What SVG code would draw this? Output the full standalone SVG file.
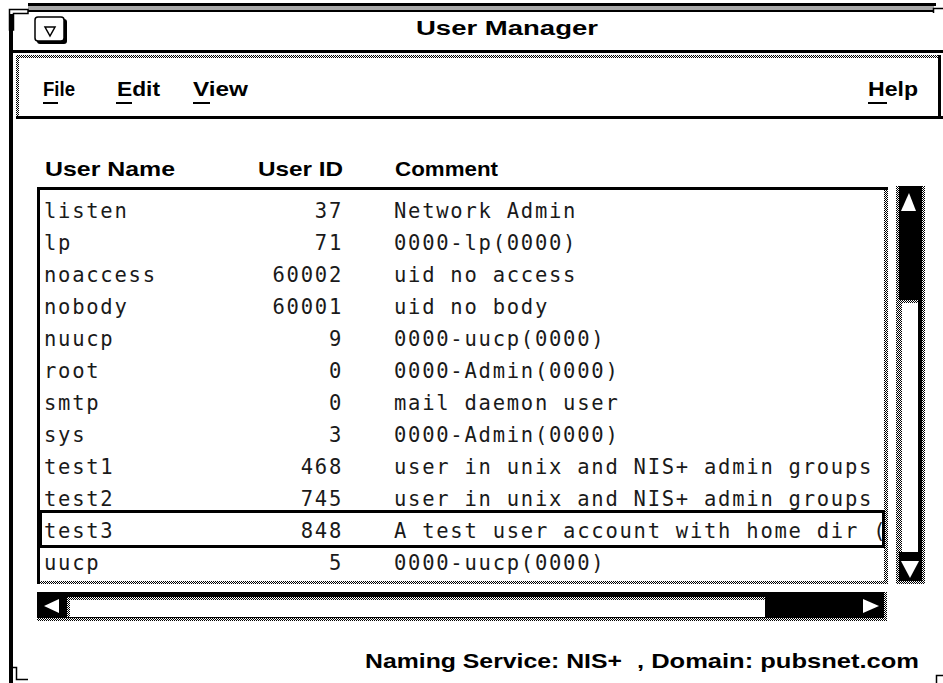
<svg xmlns="http://www.w3.org/2000/svg" width="943" height="683" viewBox="0 0 943 683">
<defs>
<pattern id="chk" width="2" height="2" patternUnits="userSpaceOnUse"><rect width="2" height="2" fill="#fff"/><rect width="1" height="1" fill="#000"/><rect x="1" y="1" width="1" height="1" fill="#000"/></pattern>
<clipPath id="listclip"><rect x="40" y="190" width="843" height="391"/></clipPath>
</defs>
<style>
.ui{font-family:"Liberation Sans",Arial,sans-serif;font-weight:bold;fill:#000;}
.mono{font-family:"DejaVu Sans Mono","Liberation Mono",monospace;font-size:20.5px;letter-spacing:1.75px;fill:#1a1a1a;}
.id{text-anchor:end;}
.blk{fill:#000;}
.dot{fill:url(#chk);}
.wht{fill:#fff;}
</style>
<rect width="943" height="683" fill="#fff"/>

<g id="frame">
<rect x="28" y="3" width="908" height="3" class="blk"/>
<rect x="28" y="6" width="906" height="4" fill="#a8a8a8"/>
<rect x="28" y="10" width="905" height="2" class="blk"/>
<polygon points="9.5,9.5 28,9.5 28,13.5 13.5,13.5 13.5,30 9.5,30" fill="#fff" stroke="#000" stroke-width="1.5"/>
<path d="M933.5,13 V8.5 H943" fill="none" stroke="#000" stroke-width="1.5"/>
<rect x="9" y="14" width="4" height="669" class="blk"/>
<path d="M12,667.5 H16.5 V679.5 H28" fill="none" stroke="#000" stroke-width="1.5"/>
<path d="M936.5,683 V675.5 H943" fill="none" stroke="#000" stroke-width="1.5"/>
</g>

<g id="titlebar">
<rect x="37" y="19" width="30" height="25" rx="3" class="blk"/>
<rect x="35" y="17" width="29" height="24" rx="3" fill="#fff" stroke="#000" stroke-width="1.5"/>
<polygon points="45,27 55,27 50,36" fill="#fff" stroke="#000" stroke-width="1.5"/>
<text x="416" y="35" class="ui" font-size="20" textLength="182" lengthAdjust="spacingAndGlyphs">User Manager</text>
</g>

<g id="menubar">
<rect x="11" y="50" width="932" height="3" class="blk"/>
<rect x="16" y="55" width="925" height="3" class="dot"/>
<rect x="16" y="55" width="3" height="62" class="dot"/>
<rect x="16" y="116" width="927" height="3" class="blk"/>
<rect x="938" y="55" width="3" height="64" class="blk"/>
<text x="43" y="96" class="ui" font-size="21" textLength="32" lengthAdjust="spacingAndGlyphs">File</text>
<rect x="43" y="102" width="15" height="2" class="blk"/>
<text x="117" y="96" class="ui" font-size="21" textLength="43" lengthAdjust="spacingAndGlyphs">Edit</text>
<rect x="116" y="102" width="16" height="2" class="blk"/>
<text x="193" y="96" class="ui" font-size="21" textLength="55" lengthAdjust="spacingAndGlyphs">View</text>
<rect x="193" y="102" width="17" height="2" class="blk"/>
<text x="868" y="96" class="ui" font-size="21" textLength="50" lengthAdjust="spacingAndGlyphs">Help</text>
<rect x="868" y="102" width="19" height="2" class="blk"/>
</g>

<g id="headers">
<text x="45" y="176" class="ui" font-size="21" textLength="130" lengthAdjust="spacingAndGlyphs">User Name</text>
<text x="258" y="176" class="ui" font-size="21" textLength="85" lengthAdjust="spacingAndGlyphs">User ID</text>
<text x="395" y="176" class="ui" font-size="21" textLength="103" lengthAdjust="spacingAndGlyphs">Comment</text>
</g>

<g id="list">
<rect x="37" y="187" width="851" height="3" class="blk"/>
<rect x="37" y="187" width="3" height="397" class="blk"/>
<rect x="40" y="581" width="848" height="3" class="dot"/>
<rect x="884" y="190" width="4" height="394" class="dot"/>
<g clip-path="url(#listclip)">
<text x="44" y="218" class="mono">listen</text><text x="343" y="218" class="mono id">37</text><text x="394" y="218" class="mono">Network Admin</text>
<text x="44" y="250" class="mono">lp</text><text x="343" y="250" class="mono id">71</text><text x="394" y="250" class="mono">0000-lp(0000)</text>
<text x="44" y="282" class="mono">noaccess</text><text x="343" y="282" class="mono id">60002</text><text x="394" y="282" class="mono">uid no access</text>
<text x="44" y="314" class="mono">nobody</text><text x="343" y="314" class="mono id">60001</text><text x="394" y="314" class="mono">uid no body</text>
<text x="44" y="346" class="mono">nuucp</text><text x="343" y="346" class="mono id">9</text><text x="394" y="346" class="mono">0000-uucp(0000)</text>
<text x="44" y="378" class="mono">root</text><text x="343" y="378" class="mono id">0</text><text x="394" y="378" class="mono">0000-Admin(0000)</text>
<text x="44" y="410" class="mono">smtp</text><text x="343" y="410" class="mono id">0</text><text x="394" y="410" class="mono">mail daemon user</text>
<text x="44" y="442" class="mono">sys</text><text x="343" y="442" class="mono id">3</text><text x="394" y="442" class="mono">0000-Admin(0000)</text>
<text x="44" y="474" class="mono">test1</text><text x="343" y="474" class="mono id">468</text><text x="394" y="474" class="mono">user in unix and NIS+ admin groups</text>
<text x="44" y="506" class="mono">test2</text><text x="343" y="506" class="mono id">745</text><text x="394" y="506" class="mono">user in unix and NIS+ admin groups</text>
<text x="44" y="538" class="mono">test3</text><text x="343" y="538" class="mono id">848</text><text x="394" y="538" class="mono">A test user account with home dir (</text>
<text x="44" y="570" class="mono">uucp</text><text x="343" y="570" class="mono id">5</text><text x="394" y="570" class="mono">0000-uucp(0000)</text>
</g>
<rect x="40.5" y="511.5" width="843" height="35" fill="none" stroke="#000" stroke-width="3"/>
</g>

<g id="vscroll">
<rect x="896" y="186" width="29" height="398" class="blk"/>
<rect x="896" y="186" width="3" height="398" class="dot"/>
<rect x="922" y="186" width="3" height="398" class="dot"/>
<rect x="899" y="300" width="19" height="252" class="wht"/>
<rect x="899" y="300" width="19" height="3" class="dot"/>
<rect x="899" y="300" width="3" height="252" class="dot"/>
<rect x="896" y="581" width="29" height="3" class="dot"/>
<polygon points="909,193 901,211 916,211" fill="#fff"/>
<polygon points="901,561 919,561 910,578" fill="#fff"/>
</g>

<g id="hscroll">
<rect x="37" y="592" width="850" height="29" class="blk"/>
<rect x="67" y="597" width="698" height="20" class="wht"/>
<rect x="67" y="597" width="698" height="3" class="dot"/>
<rect x="67" y="597" width="3" height="20" class="dot"/>
<rect x="37" y="618" width="850" height="3" class="dot"/>
<rect x="884" y="592" width="3" height="29" class="dot"/>
<polygon points="44,606 59,599 59,613" fill="#fff"/>
<polygon points="863,599 863,613 879,606" fill="#fff"/>
</g>

<g id="status">
<text x="365" y="668" class="ui" font-size="21" textLength="257" lengthAdjust="spacingAndGlyphs">Naming Service: NIS+</text>
<text x="637" y="668" class="ui" font-size="21" textLength="282" lengthAdjust="spacingAndGlyphs">, Domain: pubsnet.com</text>
</g>
</svg>
